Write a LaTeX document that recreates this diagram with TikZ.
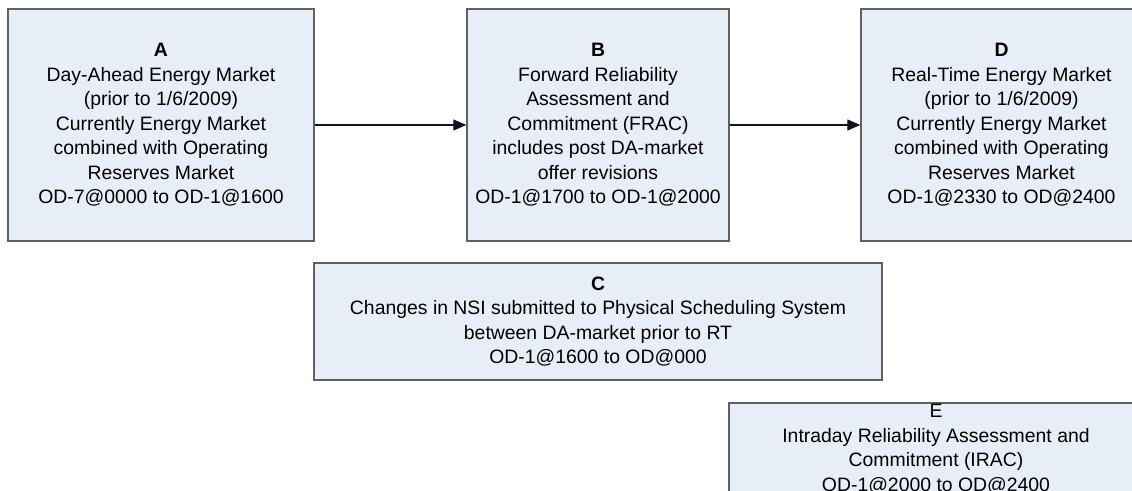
\documentclass[tikz,border=0pt]{standalone}
\usepackage{fontspec}
\setmainfont{Liberation Sans}
\usetikzlibrary{arrows.meta}
\definecolor{boxfill}{RGB}{232,238,248}
\definecolor{boxline}{RGB}{96,96,96}
\definecolor{flowline}{RGB}{15,20,30}
\begin{document}
\begin{tikzpicture}[x=1pt,y=-1pt,
  box/.style={draw=boxline, line width=1.4pt, fill=boxfill, inner sep=0pt,
    align=center, font=\fontsize{19.4}{24.5}\selectfont},
  flow/.style={draw=flowline, line width=1.3pt,
    -{Triangle[length=13pt,width=11pt]}}]
\useasboundingbox (0,0) rectangle (1132,490);
\clip (0,0) rectangle (1132,490);

\node[box, minimum width=306pt, minimum height=232pt] (A) at (161,125)
  {\textbf{A}\\Day-Ahead Energy Market\\(prior to 1/6/2009)\\Currently Energy Market\\combined with Operating\\Reserves Market\\OD-7@0000 to OD-1@1600};

\node[box, minimum width=262pt, minimum height=232pt] (B) at (598,125)
  {\textbf{B}\\Forward Reliability\\Assessment and\\Commitment (FRAC)\\includes post DA-market\\offer revisions\\OD-1@1700 to OD-1@2000};

\node[box, minimum width=281pt, minimum height=232pt] (D) at (1001.5,125)
  {\textbf{D}\\Real-Time Energy Market\\(prior to 1/6/2009)\\Currently Energy Market\\combined with Operating\\Reserves Market\\OD-1@2330 to OD@2400};

\node[box, minimum width=568pt, minimum height=117pt] (C) at (598,321.5)
  {\textbf{C}\\Changes in NSI submitted to Physical Scheduling System\\between DA-market prior to RT\\OD-1@1600 to OD@000};

\node[box, minimum width=414pt, minimum height=92pt] (E) at (936,449)
  {E\\Intraday Reliability Assessment and\\Commitment (IRAC)\\OD-1@2000 to OD@2400};

\draw[flow] (A.east) -- (B.west);
\draw[flow] (B.east) -- (D.west);
\end{tikzpicture}
\end{document}
